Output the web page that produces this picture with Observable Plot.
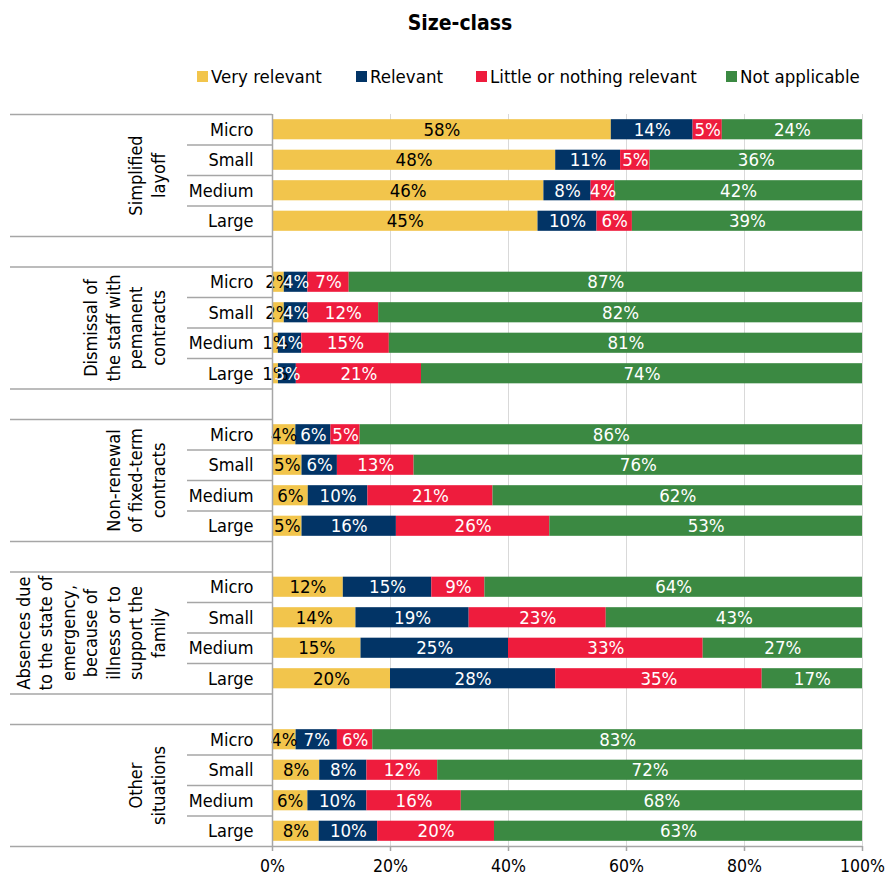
<!DOCTYPE html>
<html><head><meta charset="utf-8">
<script src="https://cdn.jsdelivr.net/npm/d3@7"></script>
<script src="https://cdn.jsdelivr.net/npm/@observablehq/plot@0.6"></script>
<style>
body{margin:0;background:#fff;font-family:'DejaVu Sans Condensed','DejaVu Sans',sans-serif;font-stretch:condensed;}
#wrap{position:relative;width:890px;height:884px;}
#chart{position:absolute;left:0;top:0}
#title{position:absolute;top:11px;left:460px;transform:translateX(-50%);font-weight:bold;font-size:21px;color:#000;white-space:nowrap}
.leg{position:absolute;top:65px;height:22px;font-size:18.5px;white-space:nowrap;display:flex;align-items:center;color:#000}
.leg i{display:inline-block;width:11px;height:11px;margin-right:3px}
</style></head><body>
<div id="wrap"><div id="chart"></div><div id="title">Size-class</div><div id="legend"></div></div>
<script>
const groupLabels = [
  "Simplified\nlayoff",
  "Dismissal of\nthe staff with\npemanent\ncontracts",
  "Non-renewal\nof fixed-term\ncontracts",
  "Absences due\nto the state of\nemergency,\nbecause of\nillness or to\nsupport the\nfamily",
  "Other\nsituations"
];
const sizes = ["Micro", "Small", "Medium", "Large"];
const levels = ["Very relevant", "Relevant", "Little or nothing relevant", "Not applicable"];
const levelColors = ["#F2C54C", "#023466", "#EE1C3D", "#3B8942"];
const xTicks = [0, 0.2, 0.4, 0.6, 0.8, 1];

// values per size (Micro, Small, Medium, Large), each [Very relevant, Relevant, Little, Not applicable]
const simplifiedLayoff = [[58, 14, 5, 24], [48, 11, 5, 36], [46, 8, 4, 42], [45, 10, 6, 39]];
const dismissalPermanent = [[2, 4, 7, 87], [2, 4, 12, 82], [1, 4, 15, 81], [1, 3, 21, 74]];
const nonRenewalFixedTerm = [[4, 6, 5, 86], [5, 6, 13, 76], [6, 10, 21, 62], [5, 16, 26, 53]];
const absencesEmergency = [[12, 15, 9, 64], [14, 19, 23, 43], [15, 25, 33, 27], [20, 28, 35, 17]];
const otherSituations = [[4, 7, 6, 83], [8, 8, 12, 72], [6, 10, 16, 68], [8, 10, 20, 63]];
const groupValues = [simplifiedLayoff, dismissalPermanent, nonRenewalFixedTerm, absencesEmergency, otherSituations];

// layout
const W = 890, H = 884, mt = 114, mb = 38, ml = 272, mr = 28;

const rows = [];
groupValues.forEach((g, gi) => g.forEach((vals, si) => vals.forEach((v, li) => {
  rows.push({group: gi, size: sizes[si], key: gi + "|" + sizes[si], level: levels[li], value: v});
})));
const yDomain = [];
groupLabels.forEach((_, gi) => {
  sizes.forEach(s => yDomain.push(gi + "|" + s));
  if (gi < groupLabels.length - 1) yDomain.push("gap" + gi);
});
const step = (H - mt - mb) / yDomain.length;

const sepTop = [];     // group boundary lines above each group
const sepBottom = [];  // group boundary lines below each group
const sepInner = [];   // lines between sizes (short)
groupLabels.forEach((_, gi) => {
  sepTop.push(gi + "|Micro");
  sizes.slice(0, 3).forEach(s => sepInner.push(gi + "|" + s));
  if (gi < groupLabels.length - 1) sepBottom.push(gi + "|Large");
});
const lastKey = (groupLabels.length - 1) + "|Large";

const stackOpts = (extra) => Plot.stackX({x: "value", y: "key", z: "level", order: levels, offset: "normalize", ...extra});
const font = "'DejaVu Sans Condensed','DejaVu Sans',sans-serif";
const lineStyle = {stroke: "#a6a6a6", strokeWidth: 1.5};

const chart = Plot.plot({
  width: W, height: H,
  marginTop: mt, marginBottom: mb, marginLeft: ml, marginRight: mr,
  style: {fontFamily: font, fontStretch: "condensed", background: "#fff", color: "#000", overflow: "visible"},
  x: {domain: [0, 1], axis: null},
  y: {domain: yDomain, axis: null, paddingInner: 0.34, paddingOuter: 0.17, round: false},
  color: {domain: levels, range: levelColors},
  marks: [
    Plot.ruleX(xTicks.slice(1), {stroke: "#d9d9d9", strokeWidth: 1}),
    Plot.barX(rows, stackOpts({fill: "level"})),
    Plot.text(rows, stackOpts({text: d => d.level === levels[0] ? d.value + "%" : "", fill: "#000", fontSize: 18.5})),
    Plot.text(rows, stackOpts({text: d => d.level !== levels[0] ? d.value + "%" : "", fill: "#fff", fontSize: 18.5})),
    Plot.ruleX([0], {...lineStyle}),
    Plot.ruleX(xTicks, {...lineStyle, insetTop: H - mt - mb, insetBottom: -5}),
    Plot.ruleY(sepTop, {y: d => d, dy: -step / 2, ...lineStyle, insetLeft: -(ml - 10), insetRight: W - ml - mr}),
    Plot.ruleY(sepBottom, {y: d => d, dy: step / 2, ...lineStyle, insetLeft: -(ml - 10), insetRight: W - ml - mr}),
    Plot.ruleY(sepInner, {y: d => d, dy: step / 2, ...lineStyle, insetLeft: -(ml - 187), insetRight: W - ml - mr}),
    Plot.ruleY([lastKey], {y: d => d, dy: step / 2, ...lineStyle, insetLeft: -(ml - 10)}),
    Plot.text(yDomain.filter(k => !k.startsWith("gap")), {y: d => d, text: d => d.split("|")[1], frameAnchor: "left", dx: -19, textAnchor: "end", fontSize: 18, fill: "#000"}),
    Plot.text(groupLabels, {y: (d, i) => i + "|Small", text: d => d, dy: step / 2, frameAnchor: "left", dx: -108, rotate: -90, textAnchor: "middle", lineAnchor: "bottom", lineHeight: 1.25, fontSize: 18, fill: "#000"}),
    Plot.text(xTicks, {x: d => d, text: d => d3.format(".0%")(d), frameAnchor: "bottom", dy: 25, fontSize: 17.5, fill: "#000"})
  ]
});
document.getElementById("chart").appendChild(chart);

const legendX = [197, 356, 476, 726];
const leg = document.getElementById("legend");
levels.forEach((l, i) => {
  const d = document.createElement("div");
  d.className = "leg";
  d.style.left = legendX[i] + "px";
  d.innerHTML = `<i style="background:${levelColors[i]}"></i>${l}`;
  leg.appendChild(d);
});
</script>
</body></html>
